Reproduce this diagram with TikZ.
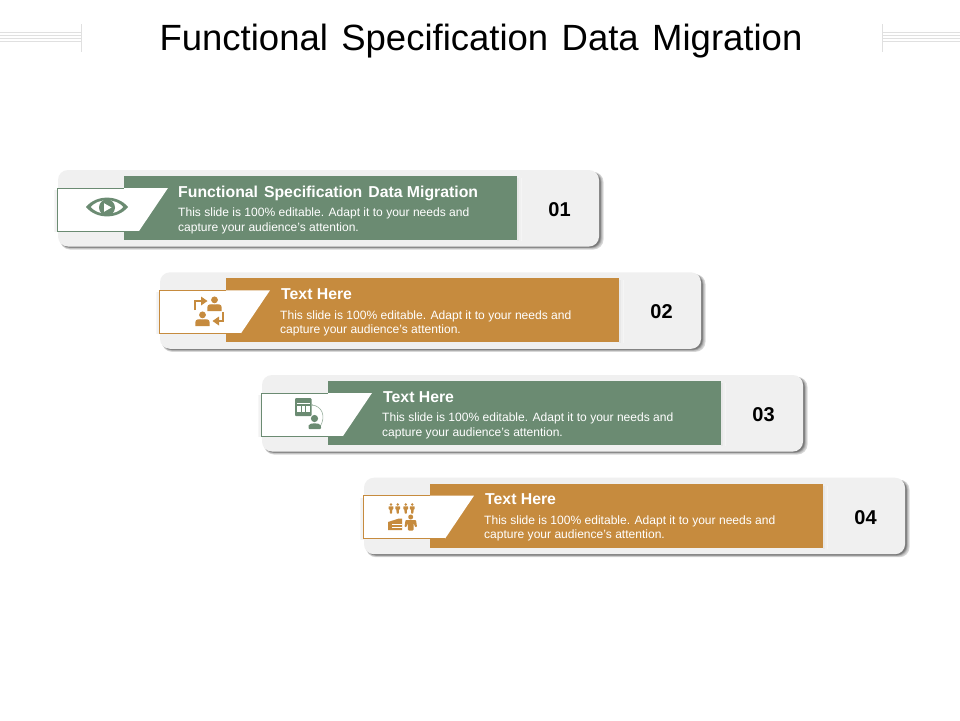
\documentclass[tikz,border=0pt]{standalone}
\usepackage{fontspec}
\setmainfont{Liberation Sans}
\definecolor{sage}{HTML}{6B8B72}
\definecolor{ochre}{HTML}{C68B3E}
\definecolor{panel}{HTML}{F0F0F0}
\definecolor{rulegrey}{HTML}{E0E0E0}
\tikzset{
  panelbox/.style={fill=panel,rounded corners=10pt},
  headtext/.style={anchor=base west,text=white,font=\fontsize{15.8}{17}\selectfont\bfseries,inner sep=0pt},
  bodytext/.style={anchor=north west,text=white,font=\fontsize{12.05}{14.1}\selectfont,inner sep=0pt,align=left},
  numtext/.style={anchor=center,text=black,font=\fontsize{20}{22}\selectfont\bfseries,inner sep=0pt},
  decor/.style={rulegrey,line width=0.9pt},
}
% #1 dx, #2 dy, #3 colour, #4 id, #5 number, #6 head, #7 head x shift
\newcommand{\rowcard}[7]{%
\begin{scope}[shift={(#1,#2)}]
  \foreach \o/\g in {5/14,4.4/18,3.8/24,3.2/32,2.6/42,2/52}{
    \fill[black!\g!white,rounded corners=10pt] (60,172) rectangle (598.5+\o,246+\o*.7);}
  \fill[panelbox] (58,170) rectangle (599,246.5);
  \foreach \o/\g in {5/4,3.5/6,2/9}{\fill[black!\g] (517,178) rectangle (517+\o,241);}
  \fill[#3] (124,176) rectangle (517,240);
  \foreach \o/\g in {3.5/3,2/5}{\fill[black!\g] (57-\o,190) rectangle (58,232);}
  \fill[white] (57,188) -- (168,188) -- (139,231) -- (57,231) -- cycle;
  \draw[#3,line width=.8pt] (139,231) -- (57,231) -- (57,188) -- (124,188);
  \node[headtext] (head#4) at (178+#7,197) {#6};
  \node[bodytext] (body#4) at (178,208) {This slide is 100\% editable. Adapt it to your needs and\\capture your audience's attention.};
  \node[numtext] (num#4) at (559.5,209.5) {#5};
\end{scope}}
\newcommand{\personicon}[4]{% x y scale colour
  \fill[#4] (#1,#2-4.2*#3) circle (3.1*#3);
  \fill[#4] (#1-6.5*#3,#2+6*#3) -- (#1-6.5*#3,#2+2.5*#3) .. controls (#1-6.5*#3,#2-.5*#3) and (#1-3*#3,#2-.5*#3) .. (#1,#2) .. controls (#1+3*#3,#2-.5*#3) and (#1+6.5*#3,#2-.5*#3) .. (#1+6.5*#3,#2+2.5*#3) -- (#1+6.5*#3,#2+6*#3) -- cycle;}
\newcommand{\smallman}[3]{% x y colour
  \fill[#3] (#1,#2-4) circle (1.4);
  \fill[#3,rounded corners=.5pt] (#1-2.4,#2-2.2) -- (#1+2.4,#2-2.2) -- (#1+2.4,#2+.8) -- (#1+1.3,#2+.8) -- (#1+1.1,#2+5) -- (#1-1.1,#2+5) -- (#1-1.3,#2+.8) -- (#1-2.4,#2+.8) -- cycle;}
\begin{document}
\begin{tikzpicture}[x=1pt,y=-1pt]
\useasboundingbox (0,0) rectangle (960,720);
\fill[white] (0,0) rectangle (960,720);
% title
\node[anchor=base,inner sep=0pt,font=\fontsize{36.5}{40}\selectfont,text=black] (title) at (481,50.5) {Functional\hspace{.09em} Specification\hspace{.09em} Data\hspace{.09em} Migration};
% corner ornaments
\foreach \y in {32,35.5,38.5,41.5}{
  \draw[decor,line width=.7pt] (0,\y) -- (81,\y);
  \draw[decor,line width=.7pt] (883,\y) -- (960,\y);}
\draw[decor] (81.5,24) -- (81.5,52);
\draw[decor] (882.5,24) -- (882.5,52);
% rows
\rowcard{0}{0}{sage}{a}{01}{Functional\hspace{.1em} Specification\hspace{.1em} Data Migration}{0}
\rowcard{102}{102.3}{ochre}{b}{02}{Text Here}{1}
\rowcard{204}{205}{sage}{c}{03}{Text Here}{1}
\rowcard{306}{307.7}{ochre}{d}{04}{Text Here}{1}
% eye icon
\fill[sage,even odd rule] (86,207) .. controls (96,194.5) and (118,194.5) .. (128,207) .. controls (118,219.5) and (96,219.5) .. (86,207) -- cycle
  (90.5,207) .. controls (98,198) and (116,198) .. (123.5,207) .. controls (116,216) and (98,216) .. (90.5,207) -- cycle;
\fill[sage] (107,207.5) circle (8);
\fill[white] (104,203.2) -- (111.5,207.5) -- (104,211.8) -- cycle;
% people + arrows icon
\personicon{214.5}{304.5}{1.1}{ochre}
\personicon{202.5}{319.5}{1.1}{ochre}
\draw[ochre,line width=2.6pt] (195,310) -- (195,301) -- (202,301);
\fill[ochre] (201,296.5) -- (207.5,301) -- (201,305.5) -- cycle;
\draw[ochre,line width=2.6pt] (223,312) -- (223,321) -- (218,321);
\fill[ochre] (219,316.5) -- (212.5,321) -- (219,325.5) -- cycle;
% calendar + person icon
\fill[sage,rounded corners=1pt] (295,398) rectangle (311.5,416);
\fill[white] (297,403) rectangle (309.5,404.3);
\foreach \x in {297.2,301.7,306.2}{\fill[white] (\x,405.5) rectangle (\x+3.3,412);}
\fill[sage!70] (312,405) circle (.9);
\draw[sage!70,line width=.6pt] (312,405) .. controls (322,406) and (326,416) .. (320.5,426);
\fill[sage] (314.5,418.5) circle (3.6);
\fill[sage,rounded corners=1pt] (308.5,429) -- (308.5,426.5) .. controls (309,422.5) and (320,422.5) .. (321,426.5) -- (321,429) -- cycle;
% people + money icon
\foreach \x in {391,397.7,405.7,412.3}{\smallman{\x}{508.5}{ochre}}
\fill[ochre] (388,522) -- (399,518.5) -- (402,518.5) -- (402,530) -- (388,530) -- cycle;
\draw[white,line width=.5pt] (392,524) -- (402,524) (392,527) -- (402,527);
\fill[ochre] (410.7,517) circle (2.5);
\fill[ochre,rounded corners=.8pt] (405.5,520) -- (416,520) -- (417,527) -- (415,527) -- (413.7,523) -- (413.5,530.5) -- (408,530.5) -- (407.7,523) -- (406.5,527) -- (404.5,527) -- cycle;
\end{tikzpicture}
\end{document}
